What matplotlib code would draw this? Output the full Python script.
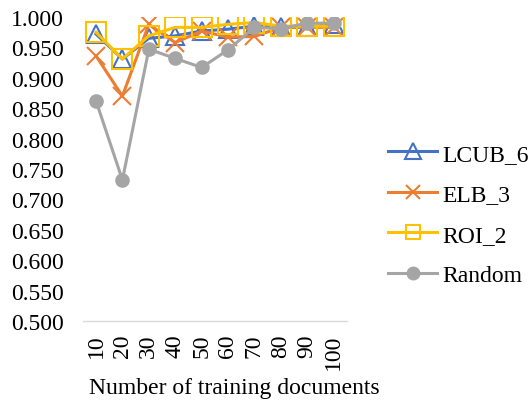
import matplotlib
matplotlib.use("Agg")
import matplotlib.pyplot as plt

plt.rcParams['font.family'] = ['Liberation Serif', 'DejaVu Serif']

docs = ["10", "20", "30", "40", "50", "60", "70", "80", "90", "100"]
lcub_6 = [0.972, 0.931, 0.965, 0.969, 0.977, 0.980, 0.985, 0.983, 0.983, 0.988]
elb_3 = [0.936, 0.870, 0.988, 0.958, 0.977, 0.967, 0.968, 0.983, 0.983, 0.983]
roi_2 = [0.975, 0.931, 0.969, 0.983, 0.983, 0.988, 0.991, 0.985, 0.985, 0.985]
random_sel = [0.862, 0.732, 0.947, 0.932, 0.917, 0.946, 0.983, 0.981, 0.990, 0.990]

fs = 17
fig = plt.figure(figsize=(5.31, 4.10), dpi=100)
ax = fig.add_axes([0.156, 0.2146, 0.497, 0.7414])

x = list(range(len(docs)))
lw = 2.2
ax.plot(x, lcub_6, color="#4472C4", lw=lw, marker="^", ms=13,
        mfc="none", mec="#4472C4", mew=1.5, label="LCUB_6")
ax.plot(x, elb_3, color="#ED7D31", lw=lw, marker="x", ms=13,
        mec="#ED7D31", mew=1.5, label="ELB_3")
ax.plot(x, roi_2, color="#FFC000", lw=lw, marker="s", ms=15,
        mfc="none", mec="#FFC000", mew=1.5, label="ROI_2")
ax.plot(x, random_sel, color="#A5A5A5", lw=lw, marker="o", ms=9.5,
        mfc="#A5A5A5", mec="#A5A5A5", label="Random")

ax.set_xlim(-0.5, len(docs) - 0.5)
ax.set_ylim(0.5, 1.0)
ax.set_yticks([0.5 + 0.05 * i for i in range(11)])
ax.set_yticklabels([f"{0.5 + 0.05 * i:.3f}" for i in range(11)], fontsize=fs)
ax.set_xticks(x)
ax.set_xticklabels(docs, rotation=90, fontsize=fs)
ax.tick_params(axis="both", length=0)
ax.tick_params(axis="y", pad=14)
ax.tick_params(axis="x", pad=9)

for side in ("left", "right", "top"):
    ax.spines[side].set_visible(False)
ax.spines["bottom"].set_color("#D9D9D9")
ax.spines["bottom"].set_linewidth(1.0)

ax.set_xlabel("Number of training documents", fontsize=fs)
ax.xaxis.set_label_coords(0.574, -0.185)

leg = ax.legend(loc="center left", bbox_to_anchor=(1.075, 0.35), frameon=False,
                fontsize=fs, handlelength=2.1, labelspacing=0.8,
                handletextpad=0.2)
for h, size in zip(leg.legend_handles, [11, 10, 10.5, 9]):
    h.set_markersize(size)

fig.savefig("out.png", dpi=100)
